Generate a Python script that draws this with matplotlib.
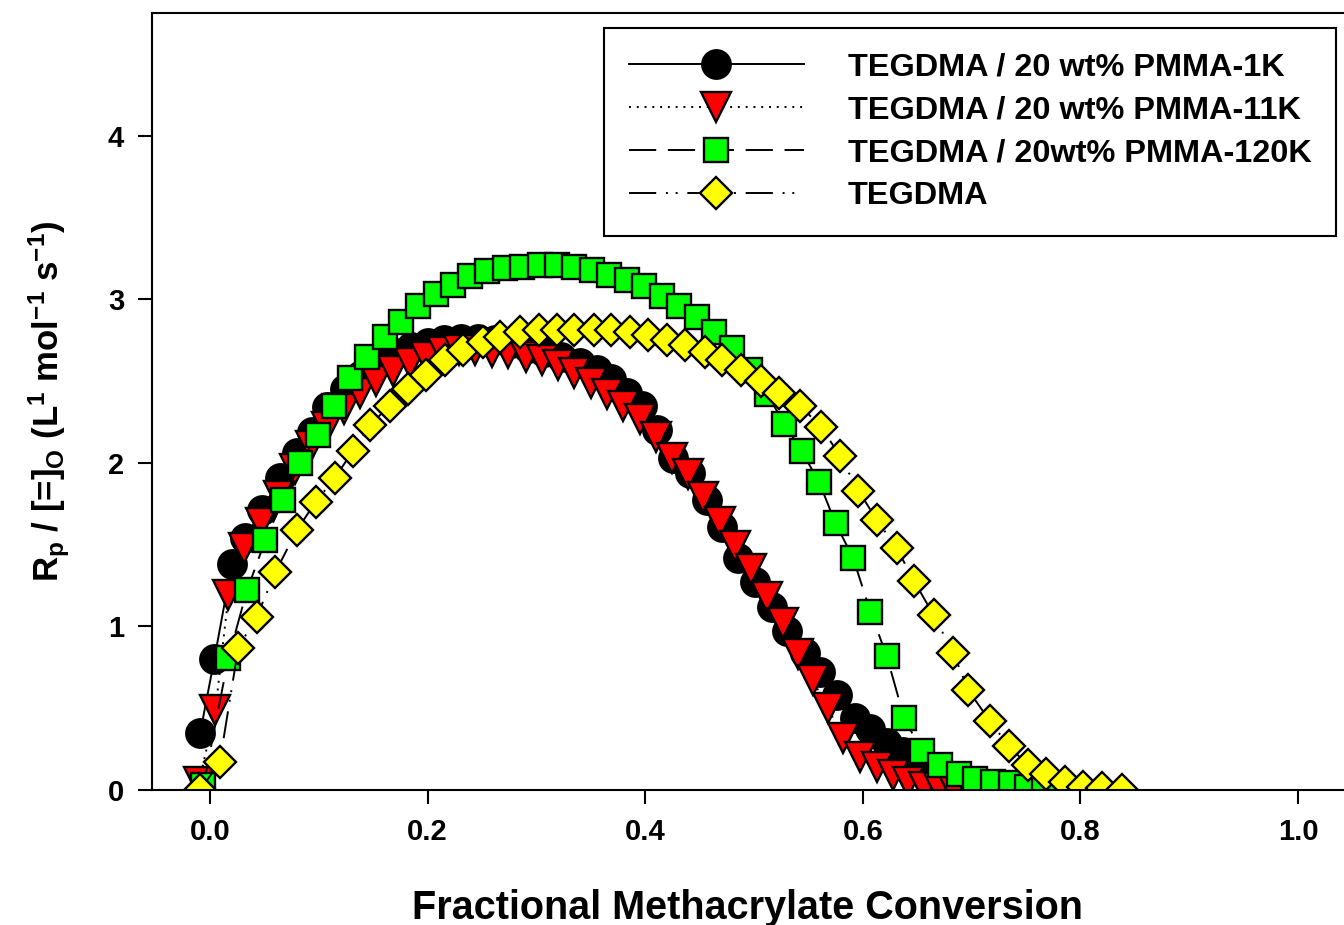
import matplotlib
matplotlib.use("Agg")
import matplotlib.pyplot as plt

plt.rcParams['font.family'] = ['Liberation Sans', 'DejaVu Sans']
plt.rcParams['font.weight'] = 'bold'
plt.rcParams['mathtext.fontset'] = 'custom'
plt.rcParams['mathtext.rm'] = 'Liberation Sans:bold'
plt.rcParams['mathtext.bf'] = 'Liberation Sans:bold'
plt.rcParams['mathtext.it'] = 'Liberation Sans:bold'

# TEGDMA / 20 wt% PMMA-1K
x_1k = [-0.009, 0.004, 0.020, 0.032, 0.048, 0.064, 0.080, 0.094, 0.108, 0.124,
        0.139, 0.154, 0.170, 0.185, 0.200, 0.215, 0.231, 0.246, 0.262, 0.277,
        0.292, 0.307, 0.323, 0.340, 0.356, 0.369, 0.383, 0.397, 0.411, 0.426,
        0.441, 0.457, 0.471, 0.485, 0.501, 0.517, 0.530, 0.547, 0.561, 0.576,
        0.593, 0.607, 0.622, 0.637, 0.651, 0.666, 0.681, 0.696, 0.711, 0.726]
y_1k = [0.35, 0.80, 1.38, 1.54, 1.71, 1.91, 2.06, 2.19, 2.34, 2.45,
        2.54, 2.61, 2.67, 2.71, 2.73, 2.75, 2.76, 2.76, 2.75, 2.73,
        2.70, 2.68, 2.65, 2.61, 2.57, 2.51, 2.43, 2.35, 2.20, 2.03,
        1.94, 1.77, 1.61, 1.42, 1.27, 1.12, 0.97, 0.84, 0.72, 0.58,
        0.44, 0.37, 0.29, 0.23, 0.17, 0.12, 0.08, 0.05, 0.03, 0.01]

# TEGDMA / 20 wt% PMMA-11K
x_11k = [-0.010, 0.005, 0.017, 0.031, 0.047, 0.063, 0.078, 0.093, 0.108, 0.123,
         0.138, 0.153, 0.168, 0.184, 0.199, 0.214, 0.229, 0.244, 0.259, 0.274,
         0.290, 0.305, 0.320, 0.335, 0.350, 0.365, 0.380, 0.395, 0.410, 0.425,
         0.439, 0.453, 0.469, 0.483, 0.497, 0.512, 0.527, 0.540, 0.554, 0.568,
         0.582, 0.597, 0.613, 0.628, 0.642, 0.656, 0.670, 0.684, 0.699]
y_11k = [0.05, 0.49, 1.19, 1.48, 1.63, 1.80, 1.96, 2.10, 2.22, 2.33,
         2.43, 2.50, 2.56, 2.61, 2.65, 2.68, 2.69, 2.69, 2.68, 2.67,
         2.65, 2.63, 2.60, 2.55, 2.49, 2.42, 2.35, 2.27, 2.16, 2.03,
         1.93, 1.79, 1.64, 1.49, 1.35, 1.18, 1.02, 0.83, 0.67, 0.50,
         0.32, 0.20, 0.14, 0.09, 0.05, 0.02, 0.01, 0.00, 0.00]

# TEGDMA / 20wt% PMMA-120K
x_120k = [-0.006, 0.017, 0.034, 0.051, 0.067, 0.083, 0.099, 0.114, 0.129, 0.144,
          0.161, 0.176, 0.191, 0.208, 0.223, 0.239, 0.255, 0.271, 0.287, 0.303,
          0.319, 0.335, 0.351, 0.367, 0.383, 0.399, 0.415, 0.431, 0.448, 0.463,
          0.480, 0.496, 0.512, 0.528, 0.544, 0.560, 0.575, 0.591, 0.607, 0.622,
          0.638, 0.654, 0.671, 0.688, 0.703, 0.720, 0.736, 0.751, 0.767]
y_120k = [0.03, 0.81, 1.22, 1.53, 1.77, 2.00, 2.17, 2.35, 2.52, 2.65,
          2.77, 2.86, 2.96, 3.03, 3.09, 3.14, 3.17, 3.19, 3.20, 3.21,
          3.21, 3.20, 3.18, 3.15, 3.12, 3.08, 3.02, 2.96, 2.89, 2.80,
          2.70, 2.57, 2.42, 2.24, 2.07, 1.88, 1.63, 1.42, 1.09, 0.82,
          0.44, 0.24, 0.15, 0.10, 0.07, 0.05, 0.04, 0.02, 0.00]

# TEGDMA
x_teg = [-0.009, 0.009, 0.026, 0.043, 0.060, 0.080, 0.097, 0.115, 0.131, 0.147,
         0.165, 0.182, 0.199, 0.216, 0.233, 0.251, 0.267, 0.285, 0.302, 0.319,
         0.335, 0.353, 0.369, 0.386, 0.403, 0.420, 0.437, 0.455, 0.471, 0.488,
         0.506, 0.523, 0.542, 0.562, 0.579, 0.596, 0.613, 0.631, 0.647, 0.665,
         0.683, 0.697, 0.717, 0.734, 0.752, 0.768, 0.786, 0.802, 0.820, 0.838]
y_teg = [0.00, 0.17, 0.87, 1.06, 1.33, 1.59, 1.76, 1.91, 2.07, 2.23,
         2.35, 2.45, 2.54, 2.63, 2.69, 2.74, 2.77, 2.80, 2.81, 2.81,
         2.81, 2.81, 2.81, 2.80, 2.78, 2.75, 2.72, 2.68, 2.63, 2.57,
         2.50, 2.43, 2.35, 2.22, 2.04, 1.83, 1.65, 1.48, 1.28, 1.07,
         0.84, 0.61, 0.42, 0.27, 0.15, 0.10, 0.05, 0.02, 0.01, 0.00]

labels = ['TEGDMA / 20 wt% PMMA-1K', 'TEGDMA / 20 wt% PMMA-11K',
          'TEGDMA / 20wt% PMMA-120K', 'TEGDMA']

fig = plt.figure(figsize=(13.44, 9.25), dpi=100)
ax = fig.add_axes([152 / 1344, 135 / 925, 1192 / 1344, 777 / 925])

lw = 1.4
mew = 1.7
ax.plot(x_1k, y_1k, color='black', lw=lw, ls='-', marker='o', ms=20.5,
        mfc='black', mec='black', mew=mew, label=labels[0])
ax.plot(x_11k, y_11k, color='black', lw=lw, ls=(0, (1, 3)), marker='v', ms=21,
        mfc='#ff0000', mec='black', mew=mew, label=labels[1])
ax.plot(x_120k, y_120k, color='black', lw=lw, ls=(0, (14, 6)), marker='s', ms=17.5,
        mfc='#00ff00', mec='black', mew=mew, label=labels[2])
ax.plot(x_teg, y_teg, color='black', lw=lw, ls=(0, (14, 5, 1, 4, 1, 5)), marker='D', ms=16.5,
        mfc='#ffff00', mec='black', mew=mew, label=labels[3])

ax.set_xlim(-0.0533, 1.0423)
ax.set_ylim(0, 4.75)
ax.set_xticks([0.0, 0.2, 0.4, 0.6, 0.8, 1.0])
ax.set_xticklabels(['0.0', '0.2', '0.4', '0.6', '0.8', '1.0'])
ax.set_yticks([0, 1, 2, 3, 4])
ax.tick_params(axis='both', direction='out', length=10, width=1.5,
               labelsize=21, pad=10)
for lab in ax.get_xticklabels() + ax.get_yticklabels():
    lab.set_fontweight('bold')
for s in ['left', 'bottom', 'top']:
    ax.spines[s].set_linewidth(1.5)
ax.spines['right'].set_visible(False)

ax.set_xlabel('Fractional Methacrylate Conversion', fontsize=28.5, fontweight='bold', labelpad=31)
ax.set_ylabel(r'R$_\mathrm{p}$ / [=]$_\mathrm{O}$ (L$^\mathrm{1}$ mol$^\mathrm{-1}$ s$^\mathrm{-1}$)',
              fontsize=25, fontweight='bold', labelpad=26)

leg = ax.legend(loc='upper right', bbox_to_anchor=(0.9933, 0.9807), borderaxespad=0,
                numpoints=1, handlelength=5.4, handletextpad=1.35, labelspacing=0.4,
                borderpad=0.75, fancybox=False, framealpha=1, edgecolor='black',
                prop={'size': 23.4, 'weight': 'bold'})
leg.get_frame().set_linewidth(1.5)

fig.savefig('out.png', dpi=100)
